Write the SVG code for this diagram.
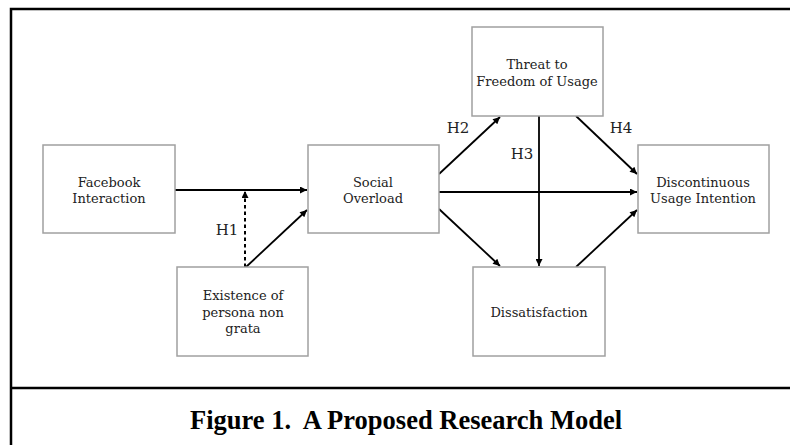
<svg xmlns="http://www.w3.org/2000/svg" width="790" height="445" viewBox="0 0 790 445">
<defs>
<style>
.frame{stroke:#000;stroke-width:2.5;fill:none}
.box{fill:#fff;stroke:#a0a0a0;stroke-width:1.5}
.nt{font-family:"DejaVu Serif","Liberation Serif",serif;font-size:13px;fill:#222;text-anchor:middle}
.lbl{font-family:"DejaVu Serif","Liberation Serif",serif;font-size:15px;fill:#222;text-anchor:middle}
.edge{stroke:#000;stroke-width:1.8;fill:none;marker-end:url(#arr)}
.plain{stroke:#000;stroke-width:1.8;fill:none}
.dash{stroke:#000;stroke-width:2;fill:none;stroke-dasharray:3.5,3;marker-end:url(#arr)}
.title{font-family:"Liberation Serif","Times New Roman",serif;font-size:26.5px;font-weight:bold;fill:#000;text-anchor:middle;white-space:pre}
</style>
<marker id="arr" viewBox="0 0 10 10" refX="10" refY="5" markerWidth="9" markerHeight="7" markerUnits="userSpaceOnUse" orient="auto">
<path d="M0,0 L10,5 L0,10 z" fill="#000"/>
</marker>
</defs>
<rect width="790" height="445" fill="#fff"/>
<g id="frame">
<path class="frame" d="M11,445 V9 H790"/>
<path class="frame" d="M11,388 H790"/>
</g>
<g id="connectors">
<line class="edge" x1="175" y1="190" x2="307" y2="190"/>
<line class="dash" x1="245" y1="267" x2="245" y2="191"/>
<line class="edge" x1="246" y1="267" x2="307" y2="210"/>
<line class="edge" x1="439" y1="174" x2="500" y2="117"/>
<line class="edge" x1="439" y1="192" x2="637" y2="192"/>
<line class="edge" x1="539" y1="116" x2="539" y2="266"/>
<line class="edge" x1="576" y1="116" x2="637" y2="174"/>
<line class="edge" x1="439" y1="209" x2="500" y2="266"/>
<line class="edge" x1="576" y1="267" x2="637" y2="210"/>
</g>
<g id="labels">
<text class="lbl" x="227" y="235">H1</text>
<text class="lbl" x="458" y="133">H2</text>
<text class="lbl" x="522" y="159">H3</text>
<text class="lbl" x="621" y="133">H4</text>
</g>
<g id="facebook">
<rect class="box" x="43" y="145" width="132" height="88"/>
<text class="nt" x="109" y="187">Facebook</text>
<text class="nt" x="109" y="203">Interaction</text>
</g>
<g id="social">
<rect class="box" x="308" y="145" width="131" height="88"/>
<text class="nt" x="373" y="187">Social</text>
<text class="nt" x="373" y="203">Overload</text>
</g>
<g id="threat">
<rect class="box" x="472" y="27" width="131" height="89"/>
<text class="nt" x="537" y="69">Threat to</text>
<text class="nt" x="537" y="86">Freedom of Usage</text>
</g>
<g id="discontinuous">
<rect class="box" x="638" y="145" width="131" height="88"/>
<text class="nt" x="703" y="187">Discontinuous</text>
<text class="nt" x="703" y="203">Usage Intention</text>
</g>
<g id="existence">
<rect class="box" x="177" y="267" width="131" height="89"/>
<text class="nt" x="243" y="300">Existence of</text>
<text class="nt" x="243" y="317">persona non</text>
<text class="nt" x="243" y="333">grata</text>
</g>
<g id="dissatisfaction">
<rect class="box" x="473" y="267" width="132" height="89"/>
<text class="nt" x="539" y="317">Dissatisfaction</text>
</g>
<text class="title" x="406" y="429" xml:space="preserve">Figure 1.  A Proposed Research Model</text>
</svg>
